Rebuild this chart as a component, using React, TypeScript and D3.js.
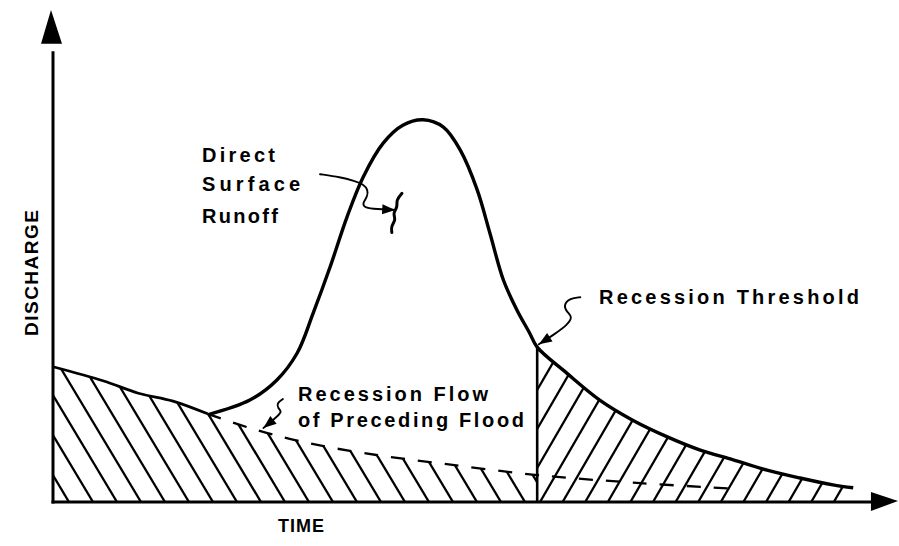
import * as d3 from 'd3';

const width = 899;
const height = 546;

// time and discharge in arbitrary units (0-100)
const precedingTime = [0, 6.0, 10.1, 14.2, 18.3];
const precedingQ = [27.6, 24.7, 22.2, 20.6, 18.0];

// continuation of the preceding flood's recession (dashed)
const recessionTime = [18.3, 23.3, 29.2, 36.7, 46.2, 57.3, 69.1, 80.7];
const recessionQ = [18.0, 15.1, 12.4, 10.0, 7.8, 5.5, 3.9, 2.7];

// the flood hydrograph
const hydroTime = [
  18.3, 23.3, 26.5, 28.9, 30.8, 32.8, 34.8, 36.7, 39.1, 41.4, 43.8, 46.2, 48.2,
  50.2, 51.7, 53.3, 54.9, 56.4, 57.3, 60.8, 64.7, 68.6, 72.7, 76.6, 80.5, 84.5,
  88.4, 92.3, 94.7,
];
const hydroQ = [
  17.8, 20.8, 24.9, 30.4, 38.6, 48.0, 58.2, 66.3, 73.3, 76.9, 78.0, 76.5, 71.8,
  63.7, 54.9, 45.3, 39.2, 34.5, 31.6, 26.3, 20.8, 16.7, 13.3, 10.6, 8.6, 6.5,
  4.9, 3.5, 2.9,
];

const thresholdTime = 57.3;

// leader lines for the labels, [time, discharge]
const runoffLeader: [number, number][] = [
  [31.6, 66.9], [34.0, 66.3], [35.7, 65.5], [36.7, 64.9], [37.3, 63.7],
  [37.2, 62.2], [36.6, 61.0], [36.9, 60.0], [38.3, 59.8], [40.5, 59.6],
];
const runoffSquiggle: [number, number][] = [
  [41.3, 63.0], [40.6, 61.6], [40.8, 60.2], [40.2, 58.9], [40.6, 57.6],
  [40.0, 56.3], [40.1, 55.0],
];
const flowLeader: [number, number][] = [
  [27.2, 21.0], [26.5, 20.2], [26.6, 19.2], [27.1, 18.4], [26.6, 17.6],
  [25.9, 16.5], [24.9, 15.1],
];
const thresholdLeader: [number, number][] = [
  [62.4, 41.8], [61.2, 41.6], [60.4, 40.2], [60.8, 38.8], [61.5, 37.8],
  [60.9, 36.2], [59.4, 34.3], [57.5, 32.2],
];

const x = d3.scaleLinear().domain([0, 100]).range([53, 898]);
const y = d3.scaleLinear().domain([0, 100]).range([502, 12]);

type Pt = [number, number];

const zip = (t: number[], q: number[]): Pt[] => t.map((d, i) => [d, q[i]]);

const Arrowhead = ({ pts, len = 13, half = 5 }: { pts: Pt[]; len?: number; half?: number }) => {
  const [t1, q1] = pts[pts.length - 2];
  const [t2, q2] = pts[pts.length - 1];
  const x1 = x(t1), y1 = y(q1), x2 = x(t2), y2 = y(q2);
  const a = Math.atan2(y2 - y1, x2 - x1);
  const bx = x2 - len * Math.cos(a);
  const by = y2 - len * Math.sin(a);
  const nx = -Math.sin(a) * half;
  const ny = Math.cos(a) * half;
  return (
    <polygon
      points={`${x2},${y2} ${bx + nx},${by + ny} ${bx - nx},${by - ny}`}
      fill="#000"
    />
  );
};

export default function App() {
  const preceding = zip(precedingTime, precedingQ);
  const recession = zip(recessionTime, recessionQ);
  const hydro = zip(hydroTime, hydroQ);

  const line = d3
    .line<Pt>()
    .x((d) => x(d[0]))
    .y((d) => y(d[1]))
    .curve(d3.curveCatmullRom.alpha(0.5));

  const leader = d3
    .line<Pt>()
    .x((d) => x(d[0]))
    .y((d) => y(d[1]))
    .curve(d3.curveBasis);

  const area = d3
    .area<Pt>()
    .x((d) => x(d[0]))
    .y0(y(0))
    .y1((d) => y(d[1]))
    .curve(d3.curveCatmullRom.alpha(0.5));

  // left shaded region: under the preceding flood's recession up to the threshold
  const leftPts: Pt[] = [
    ...preceding,
    ...recession.slice(1).filter((d) => d[0] <= thresholdTime),
  ];
  // right shaded region: under the flood recession after the threshold
  const rightPts = hydro.filter((d) => d[0] >= thresholdTime);

  const base = y(0);
  const hLen = 320;
  const leftHatch = d3.range(-8, 16).map((k) => {
    const xb = 213 + 24 * k;
    return { x1: xb - 0.6 * hLen, y1: base - hLen, x2: xb, y2: base };
  });
  const rightHatch = d3.range(-8, 15).map((k) => {
    const xb = 540 + 22.6 * k;
    return { x1: xb, y1: base, x2: xb + 0.58 * hLen, y2: base - hLen };
  });

  const xThr = x(thresholdTime);
  const qThr = hydroQ[hydroTime.indexOf(thresholdTime)];

  const font = "'Liberation Sans', Arial, sans-serif";

  return (
    <svg
      width={width}
      height={height}
      style={{ position: 'absolute', left: 0, top: 0, background: '#fff' }}
    >
      <defs>
        <clipPath id="leftClip">
          <path d={area(leftPts) ?? ''} />
        </clipPath>
        <clipPath id="rightClip">
          <path d={area(rightPts) ?? ''} />
        </clipPath>
      </defs>

      {/* hatching */}
      <g clipPath="url(#leftClip)" stroke="#000" strokeWidth={2.3}>
        {leftHatch.map((l, i) => (
          <line key={i} {...l} />
        ))}
      </g>
      <g clipPath="url(#rightClip)" stroke="#000" strokeWidth={2.3}>
        {rightHatch.map((l, i) => (
          <line key={i} {...l} />
        ))}
      </g>

      {/* preceding recession: solid, then dashed */}
      <path d={line(preceding) ?? ''} fill="none" stroke="#000" strokeWidth={2.8} />
      <path
        d={line(recession) ?? ''}
        fill="none"
        stroke="#000"
        strokeWidth={2.3}
        strokeDasharray="14 13"
      />

      {/* hydrograph */}
      <path d={line(hydro) ?? ''} fill="none" stroke="#000" strokeWidth={3.4} />

      {/* threshold vertical */}
      <line x1={xThr} x2={xThr} y1={y(0)} y2={y(qThr)} stroke="#000" strokeWidth={2.6} />

      {/* axes */}
      <line x1={x(0)} x2={x(0)} y1={y(0) + 1.5} y2={y(92)} stroke="#000" strokeWidth={3} />
      <polygon
        points={`${x(0) - 2},${y(100) - 2} ${x(0) - 12},${y(93.5)} ${x(0) + 9},${y(93.5)}`}
        fill="#000"
      />
      <line x1={x(0) - 1.5} x2={x(97)} y1={y(0)} y2={y(0)} stroke="#000" strokeWidth={3.2} />
      <polygon
        points={`${x(100)},${y(0) - 1} ${x(96.8)},${y(0) - 10} ${x(96.8)},${y(0) + 9}`}
        fill="#000"
      />

      {/* leaders */}
      <g fill="none" stroke="#000" strokeWidth={1.9} strokeLinecap="round">
        <path d={leader(runoffLeader) ?? ''} />
        <path d={leader(flowLeader) ?? ''} />
        <path d={leader(thresholdLeader) ?? ''} />
        <path d={leader(runoffSquiggle) ?? ''} strokeWidth={3} />
      </g>
      <Arrowhead pts={runoffLeader} />
      <Arrowhead pts={flowLeader} />
      <Arrowhead pts={thresholdLeader} />

      {/* labels */}
      <g fontFamily={font} fill="#000" fontWeight="bold">
        <text x={202} y={162} fontSize={20} textLength={73} lengthAdjust="spacing">
          Direct
        </text>
        <text x={202} y={191} fontSize={20} textLength={98} lengthAdjust="spacing">
          Surface
        </text>
        <text x={202} y={223} fontSize={20} textLength={76} lengthAdjust="spacing">
          Runoff
        </text>
        <text x={298} y={401} fontSize={20} textLength={190} lengthAdjust="spacing">
          Recession Flow
        </text>
        <text x={298} y={427} fontSize={20} textLength={226} lengthAdjust="spacing">
          of Preceding Flood
        </text>
        <text x={599} y={304} fontSize={20} textLength={260} lengthAdjust="spacing">
          Recession Threshold
        </text>
        <text x={278} y={532} fontSize={18} textLength={46} lengthAdjust="spacing">
          TIME
        </text>
        <text
          transform="translate(38,336) rotate(-90)"
          fontSize={19}
          textLength={126}
          lengthAdjust="spacing"
        >
          DISCHARGE
        </text>
      </g>
    </svg>
  );
}
